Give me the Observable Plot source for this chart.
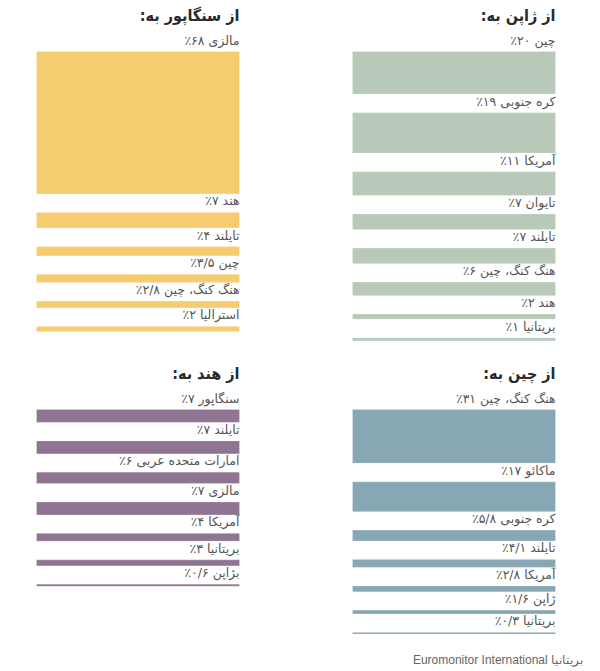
<!DOCTYPE html>
<html>
<head>
<meta charset="utf-8">
<script src="https://cdn.jsdelivr.net/npm/d3@7"></script>
<script src="https://cdn.jsdelivr.net/npm/@observablehq/plot@0.6"></script>
<style>
  html, body { margin: 0; padding: 0; background: #fff; }
  #wrap { position: relative; width: 600px; height: 671px; overflow: hidden; }
  .panel { position: absolute; }
  #caption { position: absolute; top: 653px; right: 17px; font: 12px "Liberation Sans", Arial, sans-serif; color: #666; direction: rtl; line-height: 14px; white-space: nowrap; }
</style>
</head>
<body>
<div id="wrap">
  <div class="panel" id="p-sg" style="left:37px; top:0px"></div>
  <div class="panel" id="p-jp" style="left:353px; top:0px"></div>
  <div class="panel" id="p-in" style="left:37px; top:358px"></div>
  <div class="panel" id="p-cn" style="left:353px; top:358px"></div>
  <div id="caption"></div>
</div>
<script>
// ---- data ----
const japanTitle = "از ژاپن به:";
const japanCountries = ["چین", "کره جنوبی", "آمریکا", "تایوان", "تایلند", "هنگ کنگ، چین", "هند", "بریتانیا"];
const japanValues = [20, 19, 11, 7, 7, 6, 2, 1];

const singaporeTitle = "از سنگاپور به:";
const singaporeCountries = ["مالزی", "هند", "تایلند", "چین", "هنگ کنگ، چین", "استرالیا"];
const singaporeValues = [68, 7, 4, 3.5, 2.8, 2];

const chinaTitle = "از چین به:";
const chinaCountries = ["هنگ کنگ، چین", "ماکائو", "کره جنوبی", "تایلند", "آمریکا", "ژاپن", "بریتانیا"];
const chinaValues = [31, 17, 5.8, 4.1, 2.8, 1.6, 0.3];

const indiaTitle = "از هند به:";
const indiaCountries = ["سنگاپور", "تایلند", "امارات متحده عربی", "مالزی", "آمریکا", "بریتانیا", "بژاپن"];
const indiaValues = [7, 7, 6, 7, 4, 3, 0.6];

const captionText = "بریتانیا Euromonitor International";

// ---- helpers ----
const faDigits = "۰۱۲۳۴۵۶۷۸۹";
const fa = v => String(v).replace(/\d/g, d => faDigits[+d]).replace(".", "/");
const rtl = s => "\u202B" + s + "\u202C";

function panel({title, countries, values, color, k, gap}) {
  const gapU = gap / k;
  let off = 0;
  const rows = countries.map((c, i) => {
    const y1 = off, y2 = off + values[i];
    off = y2 + gapU;
    return {label: rtl(c + " " + fa(values[i]) + "٪"), y1, y2};
  });
  const total = rows[rows.length - 1].y2;
  const mt = 52;
  const height = Math.ceil(mt + total * k + 4);
  const mb = height - mt - total * k;
  return Plot.plot({
    width: 203,
    height,
    marginTop: mt,
    marginBottom: mb,
    marginLeft: 0,
    marginRight: 1,
    style: {fontFamily: "'DejaVu Sans', sans-serif", background: "transparent", overflow: "visible"},
    y: {domain: [0, total], reverse: true, axis: null},
    marks: [
      Plot.rect(rows, {y1: "y1", y2: "y2", fill: color, stroke: color, strokeWidth: 0.8}),
      Plot.text(rows, {y: "y1", text: "label", frameAnchor: "right", textAnchor: "end", lineAnchor: "bottom", dy: -8, fontSize: 12.5, fill: "#555"}),
      Plot.text([rtl(title)], {text: d => d, frameAnchor: "top-right", textAnchor: "end", lineAnchor: "bottom", dy: -32, fontSize: 16, fontWeight: "bold", fill: "#2a2a2a", fontFamily: "'DejaVu Sans Condensed', 'DejaVu Sans', sans-serif"})
    ]
  });
}

document.getElementById("p-jp").append(panel({title: japanTitle, countries: japanCountries, values: japanValues, color: "#b8c9b9", k: 2.08, gap: 19.5}));
document.getElementById("p-sg").append(panel({title: singaporeTitle, countries: singaporeCountries, values: singaporeValues, color: "#f5cd70", k: 2.08, gap: 19.5}));
document.getElementById("p-cn").append(panel({title: chinaTitle, countries: chinaCountries, values: chinaValues, color: "#88a7b4", k: 1.7, gap: 19.5}));
document.getElementById("p-in").append(panel({title: indiaTitle, countries: indiaCountries, values: indiaValues, color: "#8f7592", k: 1.7, gap: 19.5}));
document.getElementById("caption").textContent = captionText;
</script>
</body>
</html>
